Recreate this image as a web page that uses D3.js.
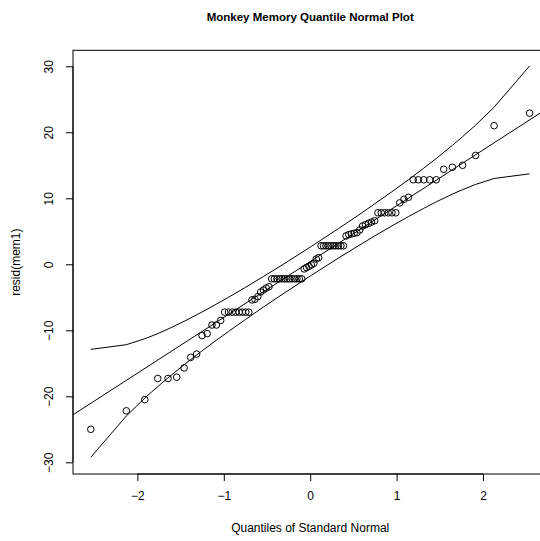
<!DOCTYPE html>
<html>
<head>
<meta charset="utf-8">
<script src="https://cdn.jsdelivr.net/npm/d3@7"></script>
<style>
  html, body { margin: 0; padding: 0; background: #fff; }
  svg { display: block; }
  text { font-family: "Liberation Sans", Arial, Helvetica, sans-serif; fill: #000; }
</style>
</head>
<body>
<script>
// ---- data ----
const title = "Monkey Memory Quantile Normal Plot";
const xLabel = "Quantiles of Standard Normal";
const yLabel = "resid(mem1)";

// theoretical normal quantiles (x of each point)
const normQuantiles = [
  -2.539,-2.128,-1.914,-1.764,-1.645,-1.545,-1.459,-1.383,-1.314,-1.251,
  -1.192,-1.137,-1.085,-1.036,-0.990,-0.946,-0.903,-0.862,-0.822,-0.784,
  -0.746,-0.710,-0.674,-0.640,-0.606,-0.573,-0.541,-0.509,-0.477,-0.446,
  -0.415,-0.385,-0.355,-0.326,-0.297,-0.268,-0.239,-0.210,-0.182,-0.154,
  -0.126,-0.098,-0.070,-0.042,-0.014, 0.014, 0.042, 0.070, 0.098, 0.126,
   0.154, 0.182, 0.210, 0.239, 0.268, 0.297, 0.326, 0.355, 0.385, 0.415,
   0.446, 0.477, 0.509, 0.541, 0.573, 0.606, 0.640, 0.674, 0.710, 0.746,
   0.784, 0.822, 0.862, 0.903, 0.946, 0.990, 1.036, 1.085, 1.137, 1.192,
   1.251, 1.314, 1.383, 1.459, 1.545, 1.645, 1.764, 1.914, 2.128, 2.539
];
// sorted residuals (y of each point)
const residuals = [
  -25.0,-22.2,-20.5,-17.3,-17.3,-17.1,-15.7,-14.1,-13.6,-10.8,
  -10.5,-9.2,-9.2,-8.5,-7.25,-7.25,-7.25,-7.25,-7.25,-7.25,
  -7.25,-7.25,-5.4,-5.3,-4.9,-4.2,-3.9,-3.6,-3.4,-2.2,
  -2.2,-2.2,-2.2,-2.2,-2.2,-2.2,-2.2,-2.2,-2.2,-2.2,
  -2.2,-2.2,-0.7,-0.5,-0.3,-0.1,0.15,0.8,1.0,2.8,
  2.8,2.8,2.8,2.8,2.8,2.8,2.8,2.8,2.8,4.3,
  4.5,4.6,4.7,4.8,5.2,5.8,6.0,6.2,6.4,6.6,
  7.8,7.8,7.8,7.8,7.8,7.8,9.3,9.85,10.15,12.8,
  12.8,12.8,12.8,12.8,14.4,14.7,15.0,16.5,21.0,22.9
];
// reference line
const lineIntercept = 0.41;
const lineSlope = 8.455;
// confidence envelope
const envZ = [-2.539,-2.128,-1.914,-1.764,-1.645,-1.459,-1.314,-1.137,-0.946,-0.746,-0.541,-0.326,-0.014,
               0.014, 0.326, 0.541, 0.746, 0.946, 1.137, 1.314, 1.459, 1.645, 1.764, 1.914, 2.128, 2.539];
const envUpper = [-12.89,-12.18,-11.28,-10.50,-9.81,-8.64,-7.66,-6.41,-5.00,-3.47,-1.85,-0.12,2.48,
                   2.72, 5.40, 7.29, 9.15, 11.00, 12.81, 14.56, 16.04, 18.01, 19.34, 21.08, 23.80, 30.05];
const envLower = [-29.23,-22.98,-20.26,-18.52,-17.19,-15.22,-13.74,-11.99,-10.18,-8.33,-6.47,-4.58,-1.90,
                  -1.66, 0.94, 2.67, 4.29, 5.82, 7.23, 8.48, 9.46, 10.63, 11.31, 12.10, 13.00, 13.71];
const xTicks = [-2, -1, 0, 1, 2];
const yTicks = [-30, -20, -10, 0, 10, 20, 30];

// ---- drawing ----
const W = 540, H = 541;
const plot = { left: 73, top: 50.3, right: 547.4, bottom: 474 };
const FONT = '"Liberation Sans", Arial, Helvetica, sans-serif';

const x = d3.scaleLinear().domain([-2.745, 2.745]).range([plot.left, plot.right]);
const y = d3.scaleLinear().domain([-31.77, 32.42]).range([plot.bottom, plot.top]);

const svg = d3.select("body").append("svg").attr("width", W).attr("height", H);

svg.append("defs").append("clipPath").attr("id", "clip")
  .append("rect").attr("x", plot.left).attr("y", plot.top)
  .attr("width", plot.right - plot.left).attr("height", plot.bottom - plot.top);

// box
svg.append("rect").attr("x", plot.left).attr("y", plot.top)
  .attr("width", plot.right - plot.left).attr("height", plot.bottom - plot.top)
  .attr("fill", "none").attr("stroke", "#000").attr("stroke-width", 1);

// axes
const xAxis = d3.axisBottom(x).tickValues(xTicks).tickSize(7).tickPadding(10).tickFormat(d3.format("d"));
const gx = svg.append("g").attr("transform", `translate(0,${plot.bottom})`).call(xAxis);
gx.select(".domain").attr("d", `M${x(xTicks[0])},0H${x(xTicks[xTicks.length-1])}`);
gx.selectAll("text").style("font-size", "12px").style("font-family", FONT);

const yAxis = d3.axisLeft(y).tickValues(yTicks).tickSize(7).tickFormat(d3.format("d"));
const gy = svg.append("g").attr("transform", `translate(${plot.left},0)`).call(yAxis);
gy.select(".domain").attr("d", `M0,${y(yTicks[0])}V${y(yTicks[yTicks.length-1])}`);
gy.selectAll(".tick text")
  .attr("x", null)
  .attr("text-anchor", "middle")
  .attr("transform", "translate(-24,0) rotate(-90)")
  .attr("dy", "0.35em")
  .style("font-size", "12px").style("font-family", FONT);

const g = svg.append("g").attr("clip-path", "url(#clip)");

// reference line
g.append("line")
  .attr("x1", x(x.domain()[0])).attr("y1", y(lineIntercept + lineSlope * x.domain()[0]))
  .attr("x2", x(x.domain()[1])).attr("y2", y(lineIntercept + lineSlope * x.domain()[1]))
  .attr("stroke", "#000").attr("stroke-width", 1);

// envelope
const envLine = d3.line().x(d => x(d[0])).y(d => y(d[1]));
g.append("path").datum(envZ.map((z, i) => [z, envUpper[i]]))
  .attr("d", envLine).attr("fill", "none").attr("stroke", "#000").attr("stroke-width", 1);
g.append("path").datum(envZ.map((z, i) => [z, envLower[i]]))
  .attr("d", envLine).attr("fill", "none").attr("stroke", "#000").attr("stroke-width", 1);

// points
g.selectAll("circle.pt").data(normQuantiles.map((z, i) => [z, residuals[i]]))
  .enter().append("circle").attr("class", "pt")
  .attr("cx", d => x(d[0])).attr("cy", d => y(d[1])).attr("r", 3.3)
  .attr("fill", "none").attr("stroke", "#000").attr("stroke-width", 1);

// title and labels
svg.append("text").attr("x", (plot.left + plot.right) / 2).attr("y", 21)
  .attr("text-anchor", "middle").style("font-size", "11.5px").style("font-weight", "bold").text(title);
svg.append("text").attr("x", (plot.left + plot.right) / 2).attr("y", 532)
  .attr("text-anchor", "middle").style("font-size", "12px").text(xLabel);
svg.append("text").attr("transform", `translate(20,${(plot.top + plot.bottom) / 2}) rotate(-90)`)
  .attr("text-anchor", "middle").style("font-size", "12px").text(yLabel);
</script>
</body>
</html>
